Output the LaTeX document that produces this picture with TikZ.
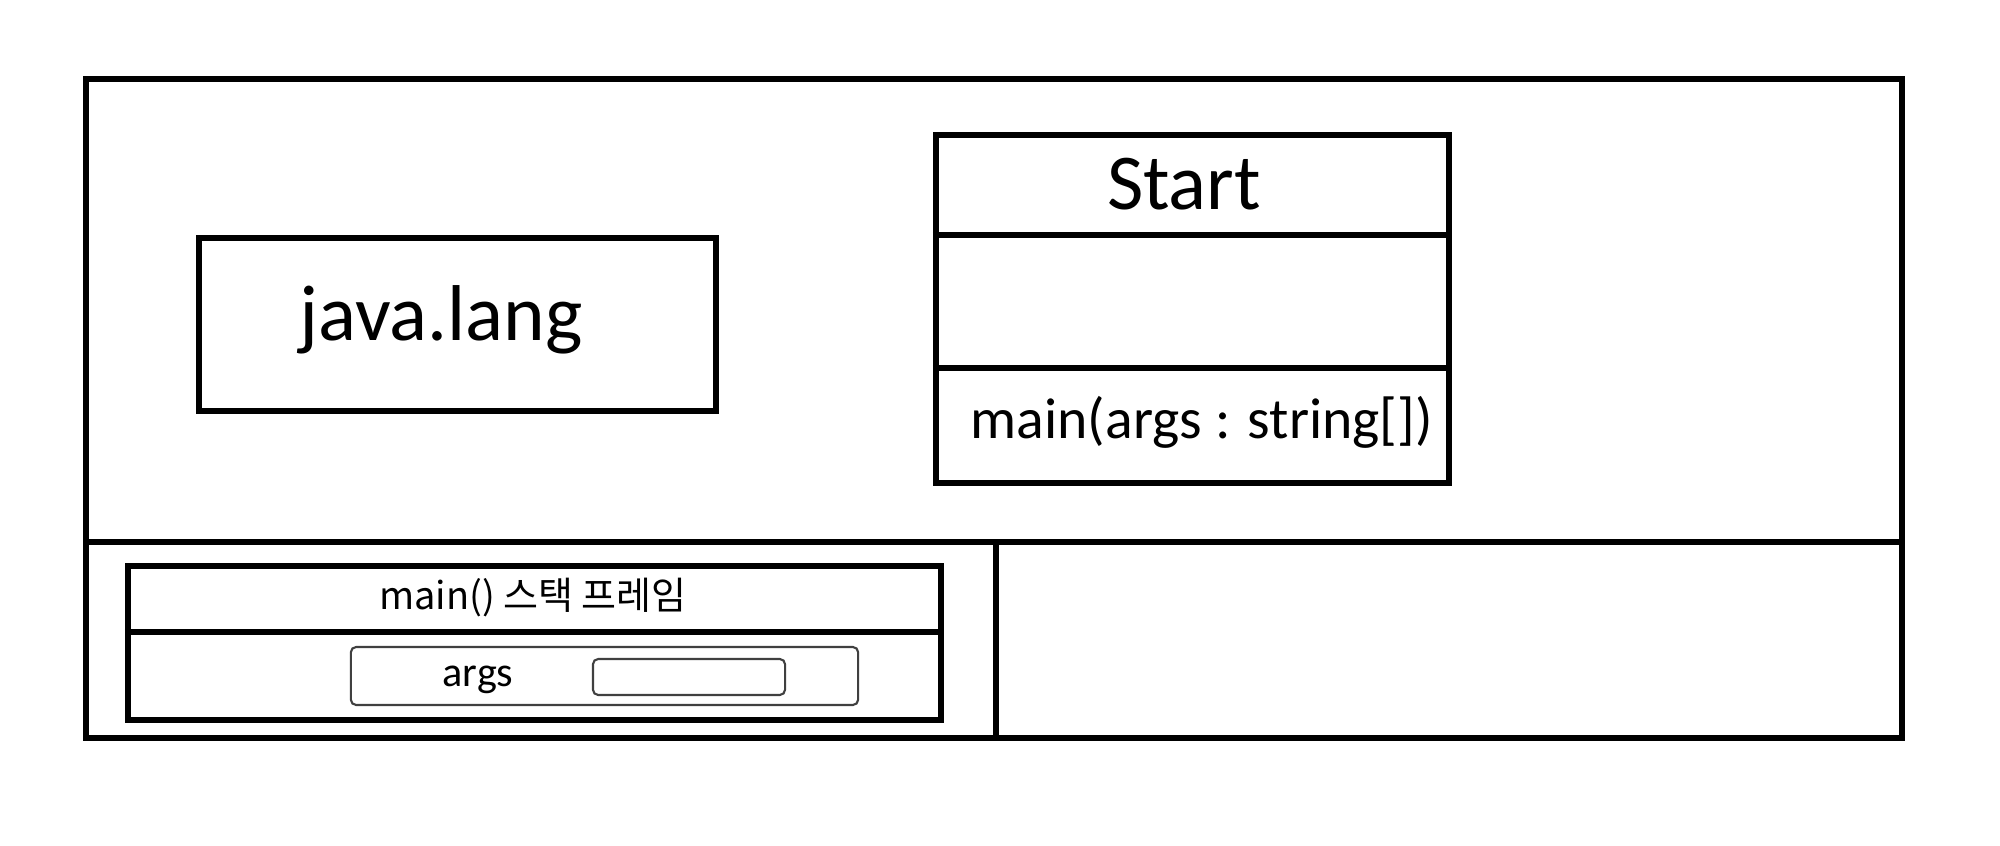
\documentclass[tikz,border=0pt]{standalone}
\usepackage{fontspec}
\setmainfont{Carlito}
\newfontfamily\krfont{Noto Sans CJK KR}
\begin{document}
\begin{tikzpicture}[x=0.01cm,y=-0.01cm,
  thick box/.style={draw=black,line width=1.7pt,inner sep=0pt,fill=none},
  thin box/.style={draw=black!75,line width=0.6pt,rounded corners=1.5pt,inner sep=0pt},
  divider/.style={draw=black,line width=1.7pt},
  lbl/.style={inner sep=0pt,text=black}]
\useasboundingbox (0,0) rectangle (2000,846);
% outer frame
\node[thick box,minimum width=18.14cm,minimum height=6.59cm] (outer) at (994,408.5) {};
\coordinate (hsplit) at (994,542);
\draw[divider] (outer.west |- hsplit) -- (outer.east |- hsplit);
\coordinate (vsplit) at (996,542);
\draw[divider] (vsplit) -- (vsplit |- outer.south);
% java.lang box
\node[thick box,minimum width=5.17cm,minimum height=1.73cm] (java) at (457.5,324.5) {};
\node[lbl,font=\fontsize{22.5}{26}\selectfont] (javatxt) at (441,320) {java.lang};
% Start class box
\node[thick box,minimum width=5.13cm,minimum height=3.48cm] (start) at (1192.5,309) {};
\coordinate (d1) at (0,235);
\coordinate (d2) at (0,368);
\draw[divider] (start.west |- d1) -- (start.east |- d1);
\draw[divider] (start.west |- d2) -- (start.east |- d2);
\node[lbl,font=\fontsize{22.5}{26}\selectfont] (starttxt) at (1184,184) {Start};
\node[lbl,font=\fontsize{16.4}{19}\selectfont,anchor=west] (method) at (970,422) {main(args : string[])};
% stack frame
\node[thick box,minimum width=8.13cm,minimum height=1.54cm] (frame) at (534.5,643) {};
\coordinate (d3) at (0,632);
\draw[divider] (frame.west |- d3) -- (frame.east |- d3);
\node[lbl,font=\krfont\fontsize{10.8}{13}\selectfont] (frametxt) at (533,598) {main() 스택 프레임};
\node[thin box,minimum width=5.07cm,minimum height=0.58cm] (argsbox) at (604.5,676) {};
\node[lbl,font=\fontsize{12}{14}\selectfont] (argstxt) at (478,680) {args};
\node[thin box,minimum width=1.92cm,minimum height=0.36cm] (argval) at (689,677) {};
\end{tikzpicture}
\end{document}
